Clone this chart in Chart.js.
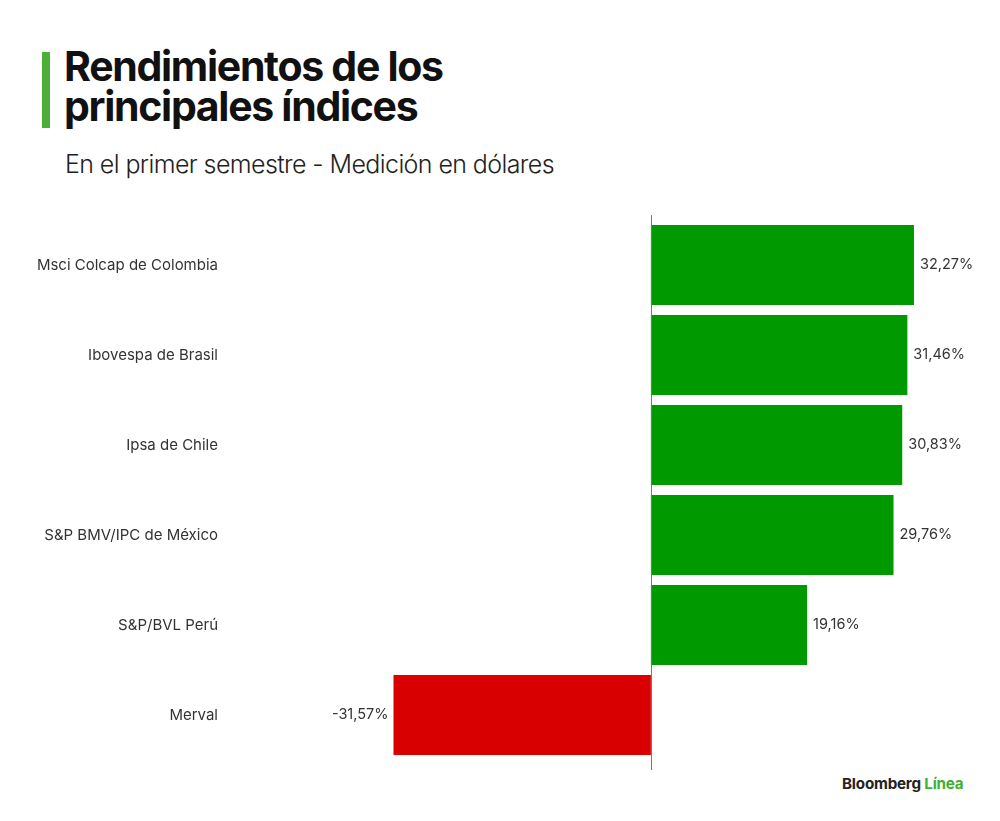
<!DOCTYPE html>
<html><head><meta charset="utf-8">
<script src="https://cdn.jsdelivr.net/npm/chart.js@4"></script>
<style>
html,body{margin:0;padding:0;background:#fff;width:1000px;height:821px;overflow:hidden;font-family:Inter,"Liberation Sans",sans-serif;}
#bar{position:absolute;left:42px;top:52px;width:8px;height:76px;background:#4caf3a;}
#title{position:absolute;left:64px;top:46px;font-size:41px;font-weight:700;line-height:40px;color:#111;letter-spacing:-1.3px;}
#sub{position:absolute;left:65px;top:149px;font-size:25px;font-weight:300;color:#222;letter-spacing:-0.6px;}
#logo{position:absolute;left:842px;top:774px;font-size:15.2px;font-weight:700;color:#222;letter-spacing:-0.2px;}
#logo span{color:#3db035;}
#wrap{position:absolute;left:0;top:210px;width:1000px;height:570px;}
canvas{display:block;}
</style></head>
<body>
<div id="bar"></div>
<div id="title">Rendimientos de los<br>principales índices</div>
<div id="sub">En el primer semestre - Medición en dólares</div>
<div id="logo">Bloomberg <span>Línea</span></div>
<div id="wrap"><canvas id="c" width="1000" height="570" style="width:1000px;height:570px"></canvas></div>
<script>
const categories = ["Msci Colcap de Colombia","Ibovespa de Brasil","Ipsa de Chile","S&P BMV/IPC de México","S&P/BVL Perú","Merval"];
const values = [32.27, 31.46, 30.83, 29.76, 19.16, -31.57];
const valueLabels = ["32,27%","31,46%","30,83%","29,76%","19,16%","-31,57%"];
const posColor = "#009a00";
const negColor = "#d80000";

const zeroLine = {
  id:'zeroLine',
  afterDatasetsDraw(chart){
    const {ctx, chartArea, scales:{x}} = chart;
    const px = Math.round(x.getPixelForValue(0)) + 0.5;
    ctx.save();
    ctx.strokeStyle = '#777';
    ctx.lineWidth = 1;
    ctx.beginPath();
    ctx.moveTo(px, chartArea.top - 5);
    ctx.lineTo(px, chartArea.bottom + 10);
    ctx.stroke();
    ctx.restore();
  }
};
const valLabels = {
  id:'valLabels',
  afterDatasetsDraw(chart){
    const {ctx} = chart;
    const meta = chart.getDatasetMeta(0);
    ctx.save();
    ctx.font = '14.5px Inter, "Liberation Sans", sans-serif';
    ctx.fillStyle = '#333';
    ctx.textBaseline = 'middle';
    meta.data.forEach((el,i)=>{
      const v = values[i];
      if (v >= 0){ ctx.textAlign='left'; ctx.fillText(valueLabels[i], el.x + 6, el.y); }
      else { ctx.textAlign='right'; ctx.fillText(valueLabels[i], el.x - 5, el.y); }
    });
    ctx.restore();
  }
};

new Chart(document.getElementById('c'), {
  type:'bar',
  data:{
    labels: categories,
    datasets:[{
      data: values,
      backgroundColor: values.map(v => v >= 0 ? posColor : negColor),
      borderWidth:0,
      barPercentage:0.89,
      categoryPercentage:1.0
    }]
  },
  options:{
    indexAxis:'y',
    responsive:false,
    animation:false,
    devicePixelRatio:1,
    layout:{padding:{top:10,bottom:20,right:23,left:0}},
    plugins:{legend:{display:false},tooltip:{enabled:false}},
    scales:{
      x:{
        min:-45, max:40,
        display:false,
        grid:{display:false}
      },
      y:{
        border:{display:false},
        grid:{display:false, drawTicks:false},
        afterFit(scale){ scale.width = 284; scale.paddingTop = 0; scale.paddingBottom = 0; },
        ticks:{
          padding:66,
          color:'#333',
          font:{family:'Inter, "Liberation Sans", sans-serif', size:15}
        }
      }
    }
  },
  plugins:[zeroLine, valLabels]
});
</script>
</body></html>
